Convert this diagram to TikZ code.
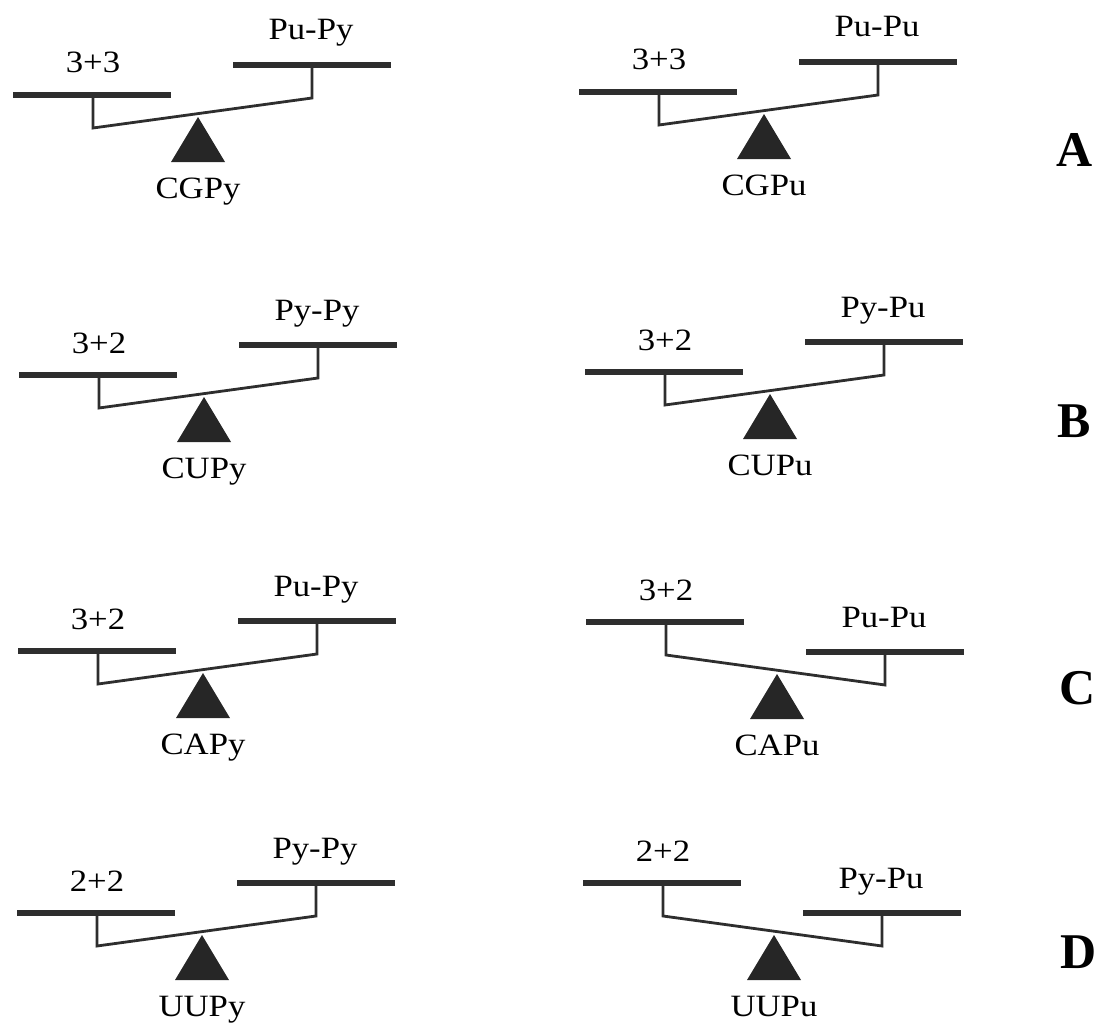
\documentclass[tikz,border=0pt]{standalone}
\usepackage{fontspec}
\setmainfont{Liberation Serif}
\newfontfamily\widefont[FakeStretch=1.12]{Liberation Serif}
\begin{document}
\begin{tikzpicture}[x=1pt, y=-1pt]
    \useasboundingbox (0,0) rectangle (1109,1025);
    \tikzset{plate/.style={line width=6pt, draw=black!82},
             rod/.style={line width=2.8pt, draw=black!82},
             word/.style={font=\widefont\fontsize{31}{34}\selectfont, anchor=base, inner sep=0pt},
             tag/.style={font=\fontsize{50}{55}\selectfont\bfseries, inner sep=0pt}}
    % Syntax: left end of left plate x / y / tilt (1 = right side up) / labels
    \foreach \xo/\yo/\t/\lw/\rp/\bp [count=\i] in {
        13/95/1/3+3/Pu-Py/CGPy, 579/92/1/3+3/Pu-Pu/CGPu,
        19/375/1/3+2/Py-Py/CUPy, 585/372/1/3+2/Py-Pu/CUPu,
        18/651/1/3+2/Pu-Py/CAPy, 586/622/-1/3+2/Pu-Pu/CAPu,
        17/913/1/2+2/Py-Py/UUPy, 583/883/-1/2+2/Py-Pu/UUPu}
    {
        \begin{scope}[shift={(\xo,\yo)}]
            \pgfmathsetmacro{\hr}{-30*\t}  % height of right plate
            \pgfmathsetmacro{\px}{188-3*\t}  % pivot
            \pgfmathsetmacro{\py}{37-15*\t}
            \coordinate (L\i) at (80,33);
            \coordinate (R\i) at (299,\hr+33);
            \coordinate (P\i) at (\px,\py);
            \draw[rod] (80,0) -- (L\i) -- (R\i) -- (299,\hr);
            \draw[plate] (0,0) -- (158,0);
            \draw[plate] (220,\hr) -- (378,\hr);
            \fill[black!85] (P\i) -- ++(-27,45) -- ++(54,0) -- cycle;
            \node[word] (lw\i) at (80,-22) {\lw};
            \node[word] (rp\i) at (298,\hr-25) {\rp};
            \node[word] (bp\i) at (\px,\py+81) {\bp};
        \end{scope}
    }
    \node[tag] (A) at (1075,150) {A};
    \node[tag] (B) at (1074,421) {B};
    \node[tag] (C) at (1078,688) {C};
    \node[tag] (D) at (1079,952) {D};
\end{tikzpicture}
\end{document}
